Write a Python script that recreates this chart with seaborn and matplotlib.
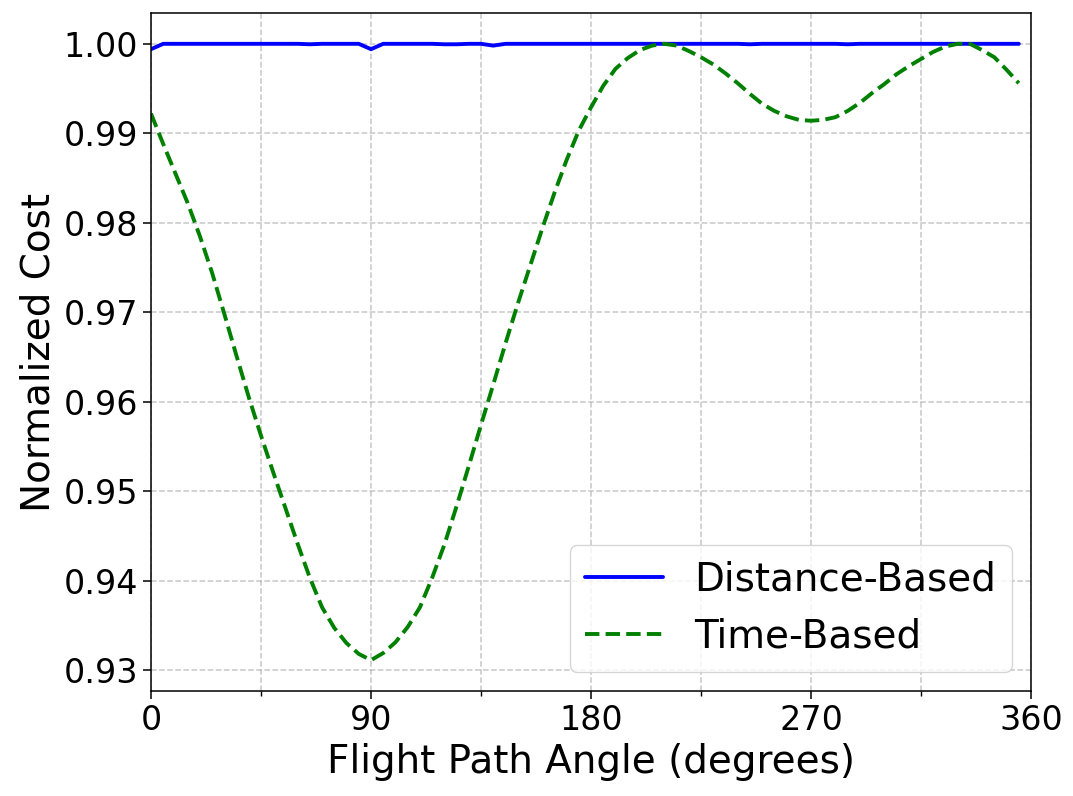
"""
Normalized cost vs flight path angle (distance vs time based)
"""

import numpy as np
import pandas as pd
import matplotlib
matplotlib.use("Agg")
import matplotlib.pyplot as plt
import seaborn as sns

# Angles sampled every 5 degrees
angles = list(range(0, 360, 5))

distance_cost = [
    0.9994, 1.0000, 1.0000, 1.0000, 1.0000, 1.0000, 1.0000, 1.0000, 1.0000, 1.0000,
    1.0000, 1.0000, 1.0000, 0.99995, 1.0000, 1.0000, 1.0000, 1.0000, 0.9994, 1.0000,
    1.0000, 1.0000, 1.0000, 1.0000, 0.99995, 0.99995, 1.0000, 1.0000, 0.9998, 1.0000,
    1.0000, 1.0000, 1.0000, 1.0000, 1.0000, 1.0000, 1.0000, 1.0000, 1.0000, 1.0000,
    1.0000, 1.0000, 1.0000, 1.0000, 1.0000, 1.0000, 1.0000, 1.0000, 1.0000, 0.99995,
    1.0000, 1.0000, 1.0000, 1.0000, 1.0000, 1.0000, 1.0000, 0.99995, 1.0000, 1.0000,
    1.0000, 1.0000, 1.0000, 1.0000, 1.0000, 1.0000, 1.0000, 1.0000, 1.0000, 1.0000,
    1.0000, 1.0000,
]

time_cost = [
    0.9922, 0.9888, 0.9855, 0.9822, 0.9785, 0.9744, 0.9698, 0.9651, 0.9605, 0.9562,
    0.9521, 0.9481, 0.9441, 0.9403, 0.9370, 0.9347, 0.9330, 0.9318, 0.9311, 0.9319,
    0.9331, 0.9348, 0.9370, 0.9403, 0.9440, 0.9483, 0.9528, 0.9574, 0.9619, 0.9665,
    0.9709, 0.9751, 0.9793, 0.9833, 0.9870, 0.9903, 0.9929, 0.9953, 0.9972, 0.9984,
    0.9993, 0.9998, 1.0000, 0.9998, 0.9992, 0.9985, 0.9977, 0.9967, 0.9956, 0.9944,
    0.9933, 0.9925, 0.9919, 0.9915, 0.9914, 0.9915, 0.9918, 0.9925, 0.9934, 0.9945,
    0.9955, 0.9966, 0.9975, 0.9983, 0.9991, 0.9997, 1.0000, 1.0000, 0.9993, 0.9985,
    0.9971, 0.9956,
]

df = pd.DataFrame({
    "angle": angles * 2,
    "cost": distance_cost + time_cost,
    "method": ["Distance-Based"] * len(angles) + ["Time-Based"] * len(angles),
})

sns.set_style("ticks")
plt.rcParams["font.family"] = ["DejaVu Sans"]
plt.rcParams.update({
    "text.color": "black",
    "axes.labelcolor": "black",
    "xtick.color": "black",
    "ytick.color": "black",
})

fig, ax = plt.subplots(figsize=(10.73, 7.96), dpi=100)
fig.subplots_adjust(left=151 / 1073, right=1031 / 1073, top=1 - 13 / 796, bottom=1 - 691 / 796)

sns.lineplot(data=df, x="angle", y="cost", hue="method", style="method",
             palette={"Distance-Based": "blue", "Time-Based": "green"},
             dashes={"Distance-Based": "", "Time-Based": (3.7, 1.6)},
             linewidth=2.8, ax=ax)

ax.set_xlim(0, 360)
ax.set_xticks(np.arange(0, 361, 90))
ax.set_xticks(np.arange(0, 361, 45), minor=True)
ax.set_yticks([0.93, 0.94, 0.95, 0.96, 0.97, 0.98, 0.99, 1.00])
ax.yaxis.set_major_formatter(matplotlib.ticker.FormatStrFormatter("%.2f"))
ax.grid(True, which="both", axis="x", linestyle="--", color="#b0b0b0", alpha=0.7, linewidth=1.1)
ax.grid(True, which="major", axis="y", linestyle="--", color="#b0b0b0", alpha=0.7, linewidth=1.1)

for s in ax.spines.values():
    s.set_color("black")
    s.set_linewidth(1.1)
ax.tick_params(axis="both", which="major", labelsize=24, length=6, width=1.1, color="black")
ax.tick_params(axis="x", which="minor", length=3.5, width=1.0, color="black")

ax.set_xlabel("Flight Path Angle (degrees)", fontsize=28)
ax.set_ylabel("Normalized Cost", fontsize=28)

leg = ax.legend(loc="lower right", fontsize=28, title=None, handlelength=2.0)
for line in leg.get_lines():
    line.set_linewidth(2.8)
for txt in leg.get_texts():
    txt.set_color("black")

fig.savefig("out.png", dpi=100)
